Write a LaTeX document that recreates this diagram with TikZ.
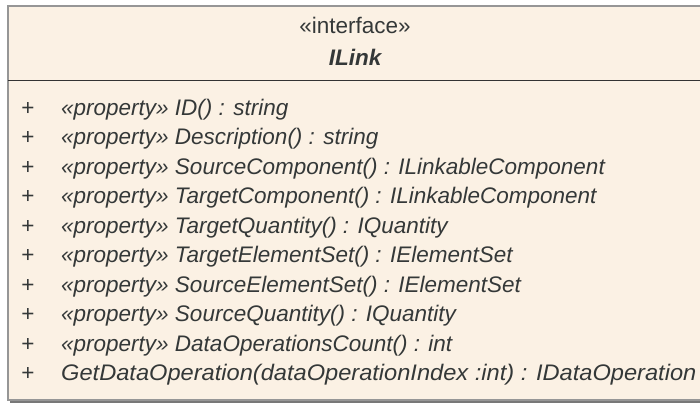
\documentclass[tikz,border=0pt]{standalone}
\usepackage{fontspec}
\setmainfont{Liberation Sans}
\definecolor{classfill}{RGB}{251,241,228}
\definecolor{classedge}{RGB}{150,150,150}
\definecolor{classshadow}{RGB}{120,120,120}
\definecolor{classtext}{RGB}{52,56,56}
\begin{document}
\begin{tikzpicture}[x=1pt,y=-1pt,
  member/.style={anchor=base west,inner sep=0pt,font=\fontsize{22.5}{26}\selectfont\itshape,text=classtext},
  vis/.style={anchor=base,inner sep=0pt,font=\fontsize{22.5}{26}\selectfont,text=classtext},
  header/.style={anchor=base,inner sep=0pt,font=\fontsize{22.5}{26}\selectfont,text=classtext}]
\useasboundingbox (0,0) rectangle (700,405);
\fill[white] (0,0) rectangle (700,405);
% class box with its drop shadow
\fill[classshadow] (10,8) rectangle (704,403);
\draw[classedge,line width=2pt,fill=classfill] (8,6) rectangle (702,400);
\draw[black!80,line width=1.8pt] (8,80.5) -- (702,80.5);
% name compartment
\node[header] (stereo) at (355,33) {«interface»};
\node[header,font=\fontsize{22.5}{26}\selectfont\bfseries\itshape] (name) at (355,65) {ILink};
% property rows
\foreach \txt [count=\i from 0] in {%
  «property» ID() : string,
  «property» Description() : string,
  «property» SourceComponent() : ILinkableComponent,
  «property» TargetComponent() : ILinkableComponent,
  «property» TargetQuantity() : IQuantity,
  «property» TargetElementSet() : IElementSet,
  «property» SourceElementSet() : IElementSet,
  «property» SourceQuantity() : IQuantity,
  «property» DataOperationsCount() : int}{
  \node[vis] (vis\i) at (28,115+29.55*\i) {+};
  \node[member] (op\i) at (61,115+29.55*\i) {\txt};
}
% the one operation
\node[vis] (vis9) at (28,115+29.55*9) {+};
\node[member] (op9) at (61,115+29.55*9)
  {\scalebox{1.05}[1]{GetDataOperation(dataOperationIndex :int) : IDataOperation}};
\end{tikzpicture}
\end{document}
